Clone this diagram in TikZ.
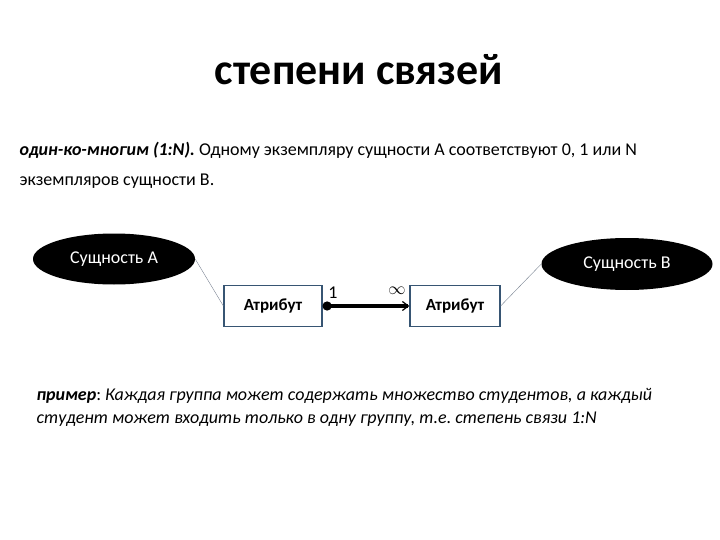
\documentclass[tikz,border=0pt]{standalone}
\usepackage{fontspec}
\setmainfont{Carlito}
\usetikzlibrary{arrows.meta}
\usetikzlibrary{shapes.geometric}
\definecolor{boxline}{RGB}{55,85,115}
\definecolor{linkline}{RGB}{120,130,145}
\newcommand{\bodyfont}{\fontsize{18}{30}\selectfont}
\frenchspacing

\begin{document}
\begin{tikzpicture}[x=1pt,y=-1pt]
\tikzstyle{entity}=[ellipse,fill=black,text=white,minimum width=162pt,minimum height=51pt,inner sep=0pt,font=\fontsize{18}{20}\selectfont]
\tikzstyle{attrbox}=[draw=boxline,line width=1.2pt,fill=white,minimum height=41pt,inner sep=0pt,font=\fontsize{17}{20}\selectfont\bfseries]
\useasboundingbox[fill=white] (0,0) rectangle (720,540);
\node (title) at (359,70) {\fontsize{44}{50}\selectfont\bfseries степени связей};
\node[anchor=west,align=left,font=\bodyfont] (def) at (16,165) {\textbf{\textit{один-ко-многим (1:N).}} Одному экземпляру сущности А соответствуют 0, 1 или N\\
экземпляров сущности В.};
\node[entity] (entA) at (114,259) {Сущность А};
\node[entity,minimum width=171pt,minimum height=52pt] (entB) at (627,264) {Сущность В};
\node[attrbox,minimum width=98pt] (attrA) at (273,306) {Атрибут};
\node[attrbox,minimum width=90pt] (attrB) at (455,306) {Атрибут};
\draw[linkline] (entA.east) -- (attrA.west);
\draw[linkline] (attrB.east) -- (entB.west);
\path[-] (attrA.east) edge [line width=3.5pt,arrows={{Circle[length=9pt]}-{Straight Barb[length=6pt,width=9pt,line width=1.2pt]}}] (attrB.west);
\node (one) at (333,293) {\fontsize{18}{20}\selectfont 1};
\node (many) at (397,291) {\fontsize{18}{20}\selectfont $\infty$};
\node[anchor=west,align=left,font=\fontsize{18}{23}\selectfont] (example) at (33,407) {\textbf{\textit{пример}}: \textit{Каждая группа может содержать множество студентов, а каждый}\\
\textit{студент может входить только в одну группу, т.е. степень связи 1:N}};
\end{tikzpicture}
\end{document}
